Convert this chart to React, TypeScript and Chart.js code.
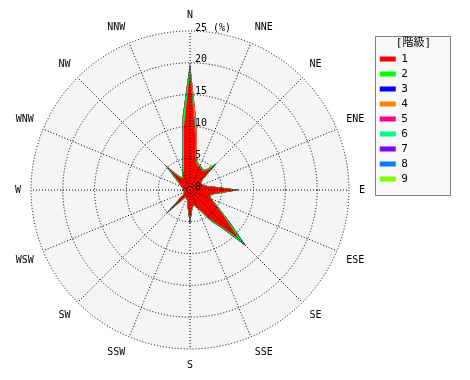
import React, { useEffect, useRef } from 'react';
import { Chart, registerables } from 'chart.js';

Chart.register(...registerables);

// 16 compass points; data is binned at 64 directions (5.625° each, 4 bins per compass point)
const directionNames = ['N', 'NNE', 'NE', 'ENE', 'E', 'ESE', 'SE', 'SSE', 'S', 'SSW', 'SW', 'WSW', 'W', 'WNW', 'NW', 'NNW'];
const binsPerDirection = 4;
const classLabels = ['1', '2', '3', '4', '5', '6', '7', '8', '9'];
const classColors = ['#ff0000', '#00ff00', '#0000ff', '#ff8000', '#ff0080', '#00ff80', '#8000ff', '#0080ff', '#80ff00'];
const legendTitle = '[階級]';
const tickMax = 25;
const tickStep = 5;
const unitLabel = '(%)';

// frequency (%) per class, 64 bins starting at N, clockwise; each row = 45°
const class1 = [
  18.5, 8.5, 4.6, 4.0, 3.9, 3.8, 3.6, 3.9,
  5.0, 2.4, 2.0, 2.0, 2.1, 2.4, 2.9, 4.3,
  7.4, 4.6, 3.4, 3.2, 3.5, 4.2, 5.5, 7.5,
  10.8, 7.0, 5.5, 3.8, 3.0, 2.5, 2.5, 3.0,
  4.6, 3.0, 2.0, 1.5, 1.3, 1.2, 1.4, 2.1,
  4.5, 1.7, 1.1, 1.0, 0.9, 0.9, 0.9, 1.0,
  1.0, 1.0, 1.1, 1.2, 1.4, 1.7, 2.1, 2.8,
  4.2, 2.5, 2.2, 2.3, 2.7, 3.3, 4.8, 9.8,
];
const class2 = [
  0.7, 0.4, 0.3, 0.2, 0.15, 0.15, 0.15, 0.3,
  0.7, 0.2, 0.1, 0.1, 0.1, 0.1, 0.1, 0.2,
  0.2, 0.2, 0.15, 0.15, 0.15, 0.2, 0.3, 0.6,
  1.2, 0.5, 0.3, 0.1, 0.1, 0.1, 0.1, 0.2,
  0.4, 0.2, 0.1, 0.1, 0.1, 0.1, 0.1, 0.2,
  0.5, 0.2, 0.1, 0.1, 0.1, 0.1, 0.1, 0.1,
  0.1, 0.1, 0.1, 0.1, 0.1, 0.1, 0.2, 0.3,
  0.6, 0.3, 0.2, 0.2, 0.4, 0.7, 1.2, 1.6,
];
const class3 = [
  0.3, 0.1, 0.05, 0.05, 0.05, 0.05, 0.05, 0.05,
  0.2, 0.05, 0, 0, 0, 0, 0, 0.05,
  0.1, 0.05, 0, 0, 0, 0.05, 0.05, 0.1,
  0.4, 0.1, 0.05, 0, 0, 0, 0, 0.05,
  0.3, 0.05, 0, 0, 0, 0, 0, 0.05,
  0.3, 0.05, 0, 0, 0, 0, 0, 0,
  0.2, 0, 0, 0, 0, 0, 0, 0.05,
  0.1, 0.05, 0, 0, 0, 0.05, 0.1, 0.1,
];
const class4 = [
  0.2, 1.3, 0.5, 0.2, 0.05, 0, 0, 0,
  0.05, 0, 0, 0, 0, 0, 0, 0,
  0.05, 0, 0, 0, 0, 0, 0, 0,
  0.05, 0, 0, 0, 0, 0, 0, 0,
  0.05, 0, 0, 0, 0, 0, 0, 0,
  0, 0, 0, 0, 0, 0, 0, 0,
  0, 0, 0, 0, 0, 0, 0, 0.1,
  0.7, 0.2, 0, 0, 0, 0, 0, 0.1,
];
const class5 = [
  0.2, 0.2, 0, 0, 0, 0, 0, 0,
  0, 0, 0, 0, 0, 0, 0, 0,
  0, 0, 0, 0, 0, 0, 0, 0,
  0, 0, 0, 0, 0, 0, 0, 0,
  0, 0, 0, 0, 0, 0, 0, 0,
  0, 0, 0, 0, 0, 0, 0, 0,
  0, 0, 0, 0, 0, 0, 0, 0,
  0, 0, 0, 0, 0, 0, 0, 0.1,
];
const class6 = [
  0.05, 0, 0, 0, 0, 0, 0, 0,
  0, 0, 0, 0, 0, 0, 0, 0,
  0, 0, 0, 0, 0, 0, 0, 0,
  0, 0, 0, 0, 0, 0, 0, 0,
  0, 0, 0, 0, 0, 0, 0, 0,
  0, 0, 0, 0, 0, 0, 0, 0,
  0, 0, 0, 0, 0, 0, 0, 0,
  0, 0, 0, 0, 0, 0, 0, 0,
];
const class7 = [
  0.03, 0, 0, 0, 0, 0, 0, 0,
  0, 0, 0, 0, 0, 0, 0, 0,
  0, 0, 0, 0, 0, 0, 0, 0,
  0, 0, 0, 0, 0, 0, 0, 0,
  0, 0, 0, 0, 0, 0, 0, 0,
  0, 0, 0, 0, 0, 0, 0, 0,
  0, 0, 0, 0, 0, 0, 0, 0,
  0, 0, 0, 0, 0, 0, 0, 0,
];
const class8 = [
  0.03, 0, 0, 0, 0, 0, 0, 0,
  0, 0, 0, 0, 0, 0, 0, 0,
  0, 0, 0, 0, 0, 0, 0, 0,
  0, 0, 0, 0, 0, 0, 0, 0,
  0, 0, 0, 0, 0, 0, 0, 0,
  0, 0, 0, 0, 0, 0, 0, 0,
  0, 0, 0, 0, 0, 0, 0, 0,
  0, 0, 0, 0, 0, 0, 0, 0,
];
const class9 = [
  0, 0, 0, 0, 0, 0, 0, 0,
  0, 0, 0, 0, 0, 0, 0, 0,
  0, 0, 0, 0, 0, 0, 0, 0,
  0, 0, 0, 0, 0, 0, 0, 0,
  0, 0, 0, 0, 0, 0, 0, 0,
  0, 0, 0, 0, 0, 0, 0, 0,
  0, 0, 0, 0, 0, 0, 0, 0,
  0, 0, 0, 0, 0, 0, 0, 0,
];
const classSeries = [class1, class2, class3, class4, class5, class6, class7, class8, class9];

const MONO = '"DejaVu Sans Mono", "Noto Sans CJK JP", monospace';

const roseDecor = {
  id: 'roseDecor',
  beforeDraw(chart: any) {
    const s = chart.scales.r;
    const ctx = chart.ctx;
    ctx.save();
    ctx.fillStyle = '#f5f5f5';
    ctx.beginPath();
    ctx.arc(s.xCenter, s.yCenter, s.drawingArea, 0, Math.PI * 2);
    ctx.fill();
    const lg = chart.legend;
    if (lg && lg.legendHitBoxes && lg.legendHitBoxes.length) {
      const x0 = Math.round(lg.left) - 0.5;
      const y0 = Math.round(lg.top) + 27.5;
      const w = Math.round(lg.width);
      const h = 159;
      ctx.fillStyle = '#f8f8f8';
      ctx.fillRect(x0, y0, w, h);
      ctx.setLineDash([1, 1]);
      ctx.strokeStyle = '#000';
      ctx.lineWidth = 1;
      ctx.strokeRect(x0, y0, w, h);
    }
    ctx.restore();
  },
  afterDraw(chart: any) {
    const s = chart.scales.r;
    const ctx = chart.ctx;
    ctx.save();
    ctx.font = '10px ' + MONO;
    ctx.fillStyle = '#000';
    ctx.textAlign = 'left';
    ctx.textBaseline = 'middle';
    s.ticks.forEach((t: any) => {
      const r = s.getDistanceFromCenterForValue(t.value);
      ctx.fillText(String(t.label), s.xCenter + 5, s.yCenter - r - 3);
    });
    ctx.restore();
  },
};

export default function App() {
  const ref = useRef<HTMLCanvasElement>(null);
  useEffect(() => {
    const labels: string[] = [];
    directionNames.forEach((name) => {
      for (let j = 0; j < binsPerDirection; j++) labels.push(j === 0 ? name : '');
    });
    // stacked (cumulative) totals so each class is drawn on top of the previous ones
    const running = classSeries[0].map(() => 0);
    const datasets = classSeries.map((series, i) => {
      const data = series.map((v, k) => {
        running[k] += v;
        return +running[k].toFixed(3);
      });
      return {
        label: classLabels[i],
        data,
        backgroundColor: classColors[i],
        borderColor: 'rgba(0,0,0,0)',
        borderWidth: 0,
        fill: 'origin',
        pointRadius: 0,
        pointHoverRadius: 0,
        tension: 0,
      };
    });
    const chart = new Chart(ref.current as HTMLCanvasElement, {
      type: 'radar',
      data: { labels, datasets: datasets as any },
      plugins: [roseDecor],
      options: {
        responsive: false,
        animation: false,
        devicePixelRatio: 1,
        events: [],
        layout: { padding: { left: 6, right: 19, top: 9, bottom: 9 } },
        scales: {
          r: {
            min: 0,
            max: tickMax,
            beginAtZero: true,
            ticks: {
              display: false,
              stepSize: tickStep,
              callback: (v: any) => (v === tickMax ? `${v} ${unitLabel}` : `${v}`),
            },
            grid: { circular: true, color: '#000', lineWidth: 1, z: 1 } as any,
            border: { dash: [1, 2] } as any,
            angleLines: {
              display: true,
              color: (ctx: any) => (ctx.index % binsPerDirection === 0 ? '#000' : 'rgba(0,0,0,0)'),
              lineWidth: (ctx: any) => (ctx.index % binsPerDirection === 0 ? 1 : 0),
              borderDash: [1, 2],
            },
            pointLabels: {
              display: true,
              padding: 10,
              color: '#000',
              font: { family: MONO, size: 10 },
            },
          },
        },
        plugins: {
          tooltip: { enabled: false },
          legend: {
            display: true,
            position: 'right',
            align: 'start',
            title: {
              display: true,
              text: legendTitle,
              color: '#000',
              font: { family: MONO, size: 11, lineHeight: 1 },
              padding: { top: 28.5, bottom: 1 },
            },
            labels: {
              boxWidth: 16,
              boxHeight: 5,
              padding: 4,
              color: '#000',
              font: { family: MONO, size: 11 },
              generateLabels: (c: any) =>
                Chart.defaults.plugins.legend.labels.generateLabels(c).map((item: any) => ({
                  ...item,
                  text: item.text + '\u00a0\u00a0\u00a0\u00a0\u00a0',
                  lineWidth: 0,
                })),
            },
          },
        },
      },
    });
    return () => chart.destroy();
  }, []);
  return (
    <div style={{ position: 'absolute', left: 0, top: 0, width: 470, height: 380, background: '#fff' }}>
      <canvas ref={ref} width={470} height={380} style={{ display: 'block' }} />
    </div>
  );
}
